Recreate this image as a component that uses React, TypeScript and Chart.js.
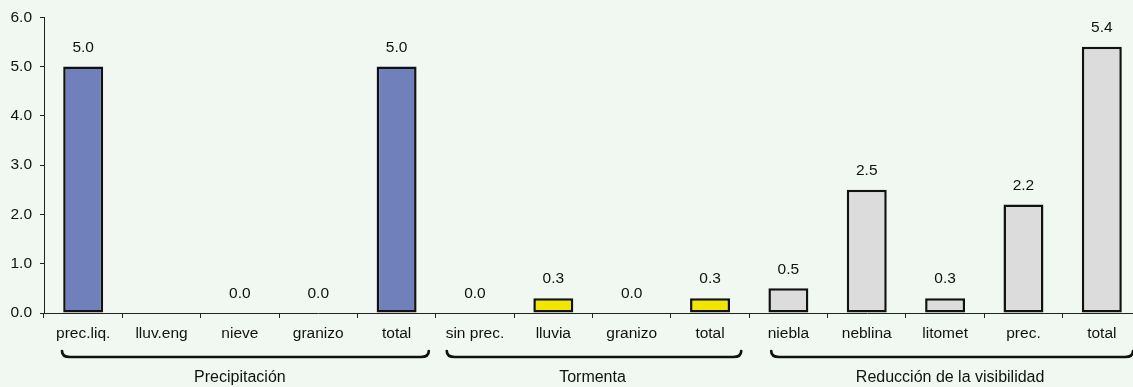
import React, { useEffect, useRef } from "react";
import { Chart, registerables } from "chart.js";
Chart.register(...registerables);

const categories = ["prec.liq.", "lluv.eng", "nieve", "granizo", "total", "sin prec.", "lluvia", "granizo", "total", "niebla", "neblina", "litomet", "prec.", "total"];
const values: (number | null)[] = [5.0, null, 0.0, 0.0, 5.0, 0.0, 0.3, 0.0, 0.3, 0.5, 2.5, 0.3, 2.2, 5.4];
const groupNames = ["Precipitación", "Tormenta", "Reducción de la visibilidad"];
const groupStarts = [0, 5, 9];
const groupEnds = [4, 8, 13];
const groupColors = ["#7080BA", "#F2E600", "#DCDCDC"];
const yMin = 0;
const yMax = 6;
const yStep = 1;

const FONT = "'Liberation Sans', Arial, Helvetica, sans-serif";
const INK = "#111111";

function groupOf(i: number) {
  for (let g = 0; g < groupStarts.length; g++) {
    if (i >= groupStarts[g] && i <= groupEnds[g]) return g;
  }
  return 0;
}

const overlayPlugin = {
  id: "overlay",
  afterDatasetsDraw(chart: any) {
    const ctx = chart.ctx;
    const meta = chart.getDatasetMeta(0);
    ctx.save();
    ctx.fillStyle = INK;
    ctx.font = `15.5px ${FONT}`;
    ctx.textAlign = "center";
    ctx.textBaseline = "middle";
    meta.data.forEach((bar: any, i: number) => {
      const v = values[i];
      if (v === null || v === undefined) return;
      ctx.fillText(v.toFixed(1), bar.x, bar.y - 19);
    });
    ctx.restore();
  },
  afterDraw(chart: any) {
    const ctx = chart.ctx;
    const x = chart.scales.x;
    const bottom = chart.chartArea.bottom;
    const half = (x.getPixelForValue(1) - x.getPixelForValue(0)) / 2;
    const leftInsets = [18, 11, 22];
    const rightInsets = [7, 8, 8];
    const by = bottom + 44;
    const r = 6;
    ctx.save();
    ctx.strokeStyle = INK;
    ctx.lineWidth = 2.7;
    ctx.lineCap = "round";
    ctx.fillStyle = INK;
    ctx.font = `16px ${FONT}`;
    ctx.textAlign = "center";
    ctx.textBaseline = "middle";
    for (let g = 0; g < groupNames.length; g++) {
      const x0 = x.getPixelForValue(groupStarts[g]) - half + leftInsets[g];
      const x1 = x.getPixelForValue(groupEnds[g]) + half - rightInsets[g];
      ctx.beginPath();
      ctx.moveTo(x0, by - r);
      ctx.quadraticCurveTo(x0, by, x0 + r + 2, by);
      ctx.lineTo(x1 - r - 2, by);
      ctx.quadraticCurveTo(x1, by, x1, by - r);
      ctx.stroke();
      const cx = (x.getPixelForValue(groupStarts[g]) - half + x.getPixelForValue(groupEnds[g]) + half) / 2;
      ctx.fillText(groupNames[g], cx + (g === 2 ? 5 : 0), bottom + 65);
    }
    ctx.restore();
  },
};

export default function App() {
  const ref = useRef<HTMLCanvasElement | null>(null);
  useEffect(() => {
    if (!ref.current) return;
    const chart = new Chart(ref.current, {
      type: "bar",
      data: {
        labels: categories,
        datasets: [
          {
            data: values as any,
            backgroundColor: categories.map((_, i) => groupColors[groupOf(i)]),
            borderColor: INK,
            borderWidth: (c: any) => (c.raw ? 2.5 : 0),
            borderSkipped: false,
            barPercentage: 0.51,
            categoryPercentage: 1,
          },
        ],
      },
      options: {
        responsive: false,
        animation: false,
        devicePixelRatio: 1,
        layout: { padding: { top: 17, right: 0, left: 0, bottom: 0 } },
        plugins: { legend: { display: false }, tooltip: { enabled: false } },
        scales: {
          x: {
            offset: true,
            grid: { display: true, drawOnChartArea: false, offset: true, tickLength: 5, color: "#222", lineWidth: 1 },
            border: { display: true, color: "#222", width: 1 },
            ticks: { color: INK, font: { family: FONT, size: 15.5 }, padding: 6, maxRotation: 0, autoSkip: false },
            afterFit: (s: any) => { s.height = 74; },
          },
          y: {
            min: yMin,
            max: yMax,
            grid: { display: true, drawOnChartArea: false, tickLength: 4, color: "#222", lineWidth: 1 },
            border: { display: true, color: "#222", width: 1 },
            ticks: { stepSize: yStep, color: INK, font: { family: FONT, size: 15.5 }, padding: 8, callback: (v: any) => Number(v).toFixed(1) },
            afterFit: (s: any) => { s.width = 44; },
          },
        },
      },
      plugins: [overlayPlugin],
    });
    return () => chart.destroy();
  }, []);
  return (
    <div style={{ position: "fixed", left: 0, top: 0, width: 1133, height: 387, overflow: "hidden", background: "#F1F8F1" }}>
      <canvas ref={ref} width={1141} height={387} style={{ display: "block", width: 1141, height: 387 }} />
    </div>
  );
}
